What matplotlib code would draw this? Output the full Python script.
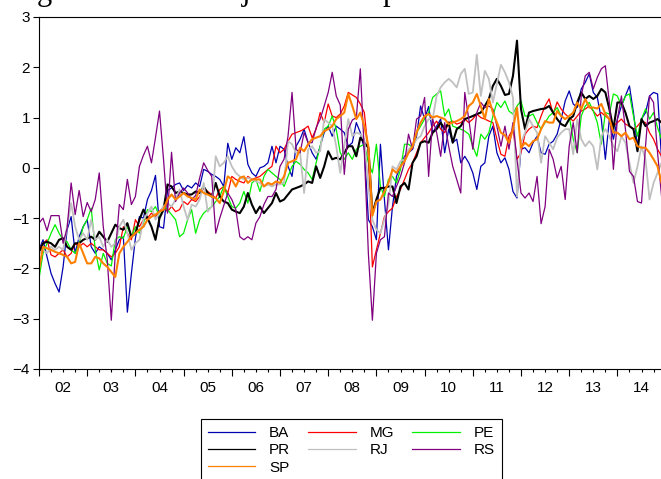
import numpy as np
import matplotlib
matplotlib.use("Agg")
import matplotlib.pyplot as plt
from matplotlib.ticker import MultipleLocator, FixedLocator, NullFormatter

plt.rcParams['font.family'] = ['Liberation Sans', 'DejaVu Sans']

# monthly observations, 2002M01 .. 2014M12
year_labels = ['02', '03', '04', '05', '06', '07', '08', '09', '10', '11', '12', '13', '14']

BA = [-1.63, -1.43, -1.77, -2.10, -2.30, -2.47, -1.97, -1.23, -0.97, -1.70, -1.37, -1.17,
      -1.03, -1.57, -1.70, -1.57, -1.63, -1.70, -1.83, -1.63, -1.43, -1.37, -2.87, -2.10,
      -1.40, -0.97, -1.00, -0.63, -0.45, -0.15, -1.17, -1.20, -0.45, -0.40, -0.33, -0.30,
      -0.45, -0.35, -0.40, -0.30, -0.37, -0.03, -0.07, -0.13, -0.17, -0.23, -0.37, 0.49,
      0.17, 0.40, 0.30, 0.62, 0.07, -0.10, -0.17, 0.00, 0.03, 0.10, 0.43, 0.10,
      0.43, 0.37, 0.03, -0.17, 0.43, 0.57, 0.77, 0.50, 0.30, 0.17, 0.43, 0.70,
      0.83, 0.63, 0.83, 0.77, 0.70, 0.43, 0.50, 0.90, 0.70, 0.37, -1.03, -1.17,
      -1.43, 0.47, -0.63, -1.63, -0.77, -0.17, 0.03, 0.23, 0.30, 0.37, 0.63, 1.23,
      0.97, 1.22, 0.70, 0.83, 0.97, 0.30, 0.77, 0.50, 0.57, 0.10, 0.23, 0.10,
      -0.10, -0.43, 0.03, 0.10, 0.63, 0.83, 0.30, 0.10, 0.20, -0.03, -0.47, -0.60,
      0.37, 0.40, 0.30, 0.50, 0.63, 0.30, 0.27, 0.47, 0.53, 0.67, 0.97, 1.33,
      1.53, 1.27, 1.20, 1.57, 1.70, 1.87, 1.50, 1.40, 0.97, 0.17, 0.97, 0.57,
      0.97, 1.23, 1.43, 1.63, 1.10, 0.43, 0.97, 1.10, 1.43, 1.50, 1.47, 0.17]

MG = [-1.63, -1.50, -1.43, -1.73, -1.77, -1.70, -1.63, -1.77, -1.70, -1.50, -1.57, -1.50,
      -1.57, -1.50, -1.57, -1.63, -1.63, -1.70, -1.77, -1.70, -1.57, -1.17, -1.30, -1.43,
      -1.03, -1.17, -1.03, -1.00, -0.90, -0.97, -0.87, -0.77, -0.87, -0.77, -0.87, -0.83,
      -0.67, -0.73, -0.63, -0.67, -0.57, -0.40, -0.47, -0.53, -0.60, -0.43, -0.37, -0.50,
      -0.17, -0.23, -0.27, -0.30, -0.17, -0.23, -0.20, -0.17, -0.10, -0.03, 0.03, 0.43,
      0.30, 0.37, 0.53, 0.67, 0.70, 0.73, 0.77, 0.83, 0.60, 0.77, 1.10, 0.90,
      1.27, 1.03, 1.00, 1.07, 1.23, 1.50, 1.45, 1.40, 1.27, 1.10, 0.30, -1.97,
      -1.63, -1.30, -0.97, -0.87, -0.80, -0.57, -0.43, -0.23, -0.03, 0.10, 0.30, 0.50,
      0.60, 0.70, 0.83, 0.93, 0.77, 0.70, 0.90, 0.93, 0.87, 0.90, 0.97, 0.90,
      0.97, 1.07, 1.00, 0.97, 0.93, 0.90, 0.57, 0.27, 0.23, 0.63, 0.77, 0.17,
      0.30, 0.67, 0.77, 0.83, 0.80, 1.03, 1.23, 1.37, 1.07, 1.31, 1.17, 1.07,
      1.00, 0.93, 1.03, 1.13, 1.17, 1.23, 1.13, 1.03, 1.10, 1.03, 0.97, 0.83,
      0.90, 0.97, 0.87, 0.83, 0.77, 0.83, 0.93, 0.90, 0.70, 0.57, 0.37, 0.23]

PE = [-2.20, -1.70, -1.50, -1.30, -1.13, -1.30, -1.43, -1.47, -1.63, -1.70, -1.50, -1.17,
      -1.03, -0.80, -1.63, -2.03, -1.70, -1.90, -1.95, -1.43, -1.37, -1.40, -1.17, -1.37,
      -1.17, -1.30, -1.10, -0.83, -0.87, -0.77, -0.97, -0.77, -0.83, -0.93, -1.03, -1.37,
      -1.30, -1.03, -0.83, -1.30, -1.03, -0.90, -0.83, -0.77, -0.67, -0.57, -0.37, -0.57,
      -0.77, -0.80, -0.70, -0.47, -0.70, -0.30, -0.23, -0.47, -0.17, -0.03, -0.10, -0.17,
      -0.23, -0.37, -0.17, 0.03, 0.13, 0.07, -0.03, -0.10, -0.23, 0.10, 0.43, 0.77,
      0.83, 1.03, 0.77, 0.30, 0.17, 0.30, 0.17, 0.37, 0.43, 0.47, 0.10, -0.10,
      0.47, -0.37, -0.57, -0.23, -0.17, -0.30, -0.03, 0.47, 0.47, 0.40, 0.70, 0.83,
      0.97, 1.10, 1.40, 1.47, 1.53, 1.03, 1.17, 0.83, 0.80, 0.77, 0.73, 0.67,
      0.43, 0.23, 0.67, 0.57, 0.70, 1.03, 1.30, 1.20, 1.33, 1.13, 1.07, 1.23,
      1.33, 1.03, 1.03, 1.07, 0.90, 0.77, 0.90, 1.03, 1.10, 1.20, 1.03, 0.97,
      1.03, 0.57, 0.30, 1.03, 1.23, 1.30, 1.13, 0.90, 0.47, 1.10, 1.07, 1.47,
      1.43, 1.23, 1.43, 1.47, 1.03, 0.63, 0.97, 1.17, 0.97, 1.10, 0.80, 0.57]

PR = [-1.70, -1.50, -1.47, -1.50, -1.57, -1.43, -1.40, -1.57, -1.63, -1.50, -1.50, -1.43,
      -1.40, -1.37, -1.43, -1.27, -1.37, -1.47, -1.30, -1.13, -1.20, -1.23, -1.10, -1.37,
      -1.30, -1.03, -0.83, -1.00, -1.17, -1.43, -1.00, -0.83, -0.33, -0.37, -0.50, -0.47,
      -0.50, -0.53, -0.53, -0.47, -0.50, -0.37, -0.50, -0.57, -0.30, -0.57, -0.67, -0.70,
      -0.83, -0.87, -0.90, -0.77, -0.50, -0.73, -0.90, -0.77, -0.90, -0.80, -0.70, -0.50,
      -0.67, -0.63, -0.53, -0.43, -0.40, -0.37, -0.33, -0.27, -0.30, 0.03, -0.20, 0.03,
      0.33, 0.17, 0.20, 0.17, 0.30, 0.43, 0.43, 0.23, 0.60, 0.50, 0.40, -0.90,
      -0.63, -0.40, -0.40, -0.37, -0.37, -0.70, -0.37, -0.30, -0.43, 0.10, 0.23, 0.50,
      0.53, 0.50, 0.70, 0.77, 0.90, 0.77, 0.90, 0.50, 0.77, 0.83, 0.97, 1.00,
      1.03, 1.07, 1.10, 1.23, 1.37, 1.63, 1.77, 1.63, 1.45, 1.47, 1.83, 2.53,
      1.17, 0.77, 1.10, 1.13, 1.15, 1.17, 1.18, 1.23, 1.10, 0.97, 0.87, 0.83,
      0.97, 1.03, 1.30, 1.50, 1.37, 1.43, 1.37, 1.43, 1.57, 1.50, 1.17, 0.77,
      1.30, 1.30, 1.10, 0.83, 0.77, 0.33, 0.97, 0.83, 0.90, 0.93, 0.97, 0.90]

RJ = [-1.70, -1.63, -1.70, -1.57, -1.63, -1.57, -1.63, -1.17, -0.70, -1.17, -1.43, -1.30,
      -1.43, -1.03, -1.43, -1.37, -1.57, -1.43, -1.57, -1.50, -1.17, -1.03, -1.30, -1.63,
      -1.50, -1.43, -1.03, -0.90, -0.77, -1.03, -0.90, -0.77, -0.70, -0.77, -0.63, -0.43,
      -0.77, -1.03, -0.73, -0.77, -0.63, -0.30, -0.87, -0.77, 0.23, 0.03, 0.10, 0.23,
      0.03, -0.10, -0.17, -0.23, -0.20, -0.23, -0.27, -0.30, -0.37, -0.33, -0.37, -0.33,
      -0.33, -0.30, 0.53, 0.47, 0.30, 0.30, -0.50, 0.37, 0.43, 0.30, 0.33, 0.97,
      0.90, 0.83, 0.43, -0.10, 0.43, 0.97, 0.63, 0.70, 0.67, 0.57, -0.37, -1.03,
      -1.23, -1.30, -1.03, -0.73, 0.03, -0.03, 0.13, 0.17, 0.37, 0.43, 0.57, 0.63,
      0.83, 0.97, 0.97, 1.43, 1.60, 1.70, 1.77, 1.70, 1.60, 1.87, 1.97, 1.47,
      1.50, 2.25, 1.43, 1.93, 1.77, 1.30, 1.67, 2.05, 1.90, 1.70, 1.40, -0.57,
      0.50, 0.70, 0.97, 0.83, 0.70, 0.10, 0.63, 0.50, 0.37, 0.60, 0.70, 0.77,
      0.77, 0.27, 0.97, 0.57, 0.43, 0.53, 0.43, -0.03, 0.63, 0.77, 0.63, 0.43,
      0.33, 0.63, 0.50, 0.10, -0.30, 0.03, 0.43, 0.17, -0.63, -0.30, -0.10, 0.10]

RS = [-1.10, -1.00, -1.25, -0.95, -0.95, -0.95, -1.50, -1.20, -0.30, -0.93, -0.45, -0.97,
      -0.69, -0.87, -0.63, -0.10, -1.17, -1.83, -3.03, -1.70, -0.73, -0.83, -0.23, -0.73,
      -0.57, 0.03, 0.25, 0.43, 0.10, 0.60, 1.13, 0.17, -0.90, 0.31, -0.67, -0.50,
      -0.40, -0.50, -0.63, -0.55, -0.20, 0.10, -0.05, -0.17, -1.30, -1.00, -0.75, -0.50,
      -0.63, -0.83, -1.37, -1.43, -1.37, -1.43, -1.10, -0.97, -0.73, -0.57, -0.57, -0.43,
      0.03, 0.17, 0.63, 1.50, 0.37, 0.30, 0.70, 0.50, 0.50, 0.80, 0.97, 1.23,
      1.50, 1.90, 1.43, 1.25, -0.13, 0.77, 0.95, 1.00, 1.97, 0.30, -1.70, -3.03,
      -1.70, -1.43, -1.37, -0.50, -0.57, -0.37, -0.17, 0.10, 0.67, 0.37, 0.97, 1.03,
      1.40, -0.17, 0.97, 0.70, 0.23, 0.90, 0.43, 0.03, -0.23, -0.50, 1.50, 0.97,
      0.37, 1.10, 1.30, 1.20, 1.23, 1.17, 0.83, 0.43, 0.83, 0.37, 0.90, 0.17,
      -0.50, -0.60, -0.50, -0.67, -0.17, -1.11, -0.77, 0.37, 0.17, -0.20, 0.03, -0.63,
      0.43, 0.90, 0.30, 1.43, 1.83, 1.90, 1.57, 1.80, 1.97, 2.03, 1.30, -0.03,
      0.97, 1.43, 0.77, -0.07, -0.17, -0.67, -0.70, 0.43, 1.43, 1.30, 0.30, -0.57]

SP = [-2.03, -1.57, -1.60, -1.63, -1.67, -1.70, -1.73, -1.77, -1.90, -1.87, -1.50, -1.70,
      -1.90, -1.90, -1.77, -1.80, -1.90, -1.97, -2.07, -2.17, -1.70, -1.57, -1.47, -1.37,
      -1.30, -1.23, -1.17, -1.03, -0.97, -0.93, -0.87, -0.83, -0.63, -0.53, -0.63, -0.57,
      -0.50, -0.57, -0.60, -0.63, -0.43, -0.50, -0.53, -0.57, -0.60, -0.70, -0.47, -0.17,
      -0.23, -0.37, -0.20, -0.17, -0.30, -0.23, -0.23, -0.23, -0.37, -0.30, -0.33, -0.27,
      -0.30, -0.17, 0.10, 0.13, 0.17, 0.40, 0.33, 0.47, 0.57, 0.60, 0.63, 0.73,
      0.77, 0.83, 0.97, 1.03, 1.10, 1.47, 1.23, 0.97, 1.10, 0.83, 0.43, -0.95,
      -0.67, -0.63, -0.47, -0.30, -0.03, -0.10, 0.03, 0.13, 0.30, 0.43, 0.70, 0.90,
      1.03, 1.07, 1.00, 1.03, 1.00, 0.97, 0.87, 0.90, 0.93, 0.97, 1.03, 1.23,
      1.30, 1.47, 1.23, 0.97, 1.37, 1.10, 0.90, 0.70, 0.65, 0.50, 0.77, 1.20,
      0.40, 0.50, 0.43, 0.53, 0.57, 0.77, 0.93, 0.90, 0.90, 1.13, 1.03, 0.97,
      1.03, 1.10, 1.30, 1.17, 1.37, 1.20, 1.20, 1.18, 1.27, 1.07, 0.97, 0.70,
      0.70, 0.63, 0.70, 0.57, 0.60, 0.43, 0.40, 0.40, 0.30, 0.17, 0.03, -0.30]

series = [('BA', BA, '#0000B0', 0.9), ('MG', MG, '#FF0000', 0.9), ('PE', PE, '#00F000', 0.9),
          ('PR', PR, '#000000', 1.5), ('RJ', RJ, '#C0C0C0', 1.3), ('RS', RS, '#800080', 0.9),
          ('SP', SP, '#FF8000', 1.5)]

W, H = 661, 479
fig = plt.figure(figsize=(W / 100, H / 100), dpi=100)
x_left, x_right, y_top, y_bot = 39, 665.6, 17, 369
ax = fig.add_axes([x_left / W, 1 - y_bot / H, (x_right - x_left) / W, (y_bot - y_top) / H])

months = np.arange(len(BA))
handles = {}
for name, vals, col, lw in series:
    handles[name], = ax.plot(months, vals, color=col, lw=lw, label=name)

ax.set_xlim(0, 12 * len(year_labels))
ax.set_ylim(-4, 3)
ax.yaxis.set_major_locator(MultipleLocator(1))
ax.tick_params(axis='y', direction='out', length=4.5, width=0.8, pad=2, labelsize=11)

# year boundaries as major ticks, quarters as minor ticks
ax.xaxis.set_major_locator(MultipleLocator(12))
ax.xaxis.set_minor_locator(MultipleLocator(3))
ax.xaxis.set_major_formatter(NullFormatter())
ax.tick_params(axis='x', which='major', direction='out', length=5, width=0.8)
ax.tick_params(axis='x', which='minor', direction='out', length=2.5, width=0.8)

# year labels centred within each year
sec = ax.secondary_xaxis('bottom')
sec.xaxis.set_major_locator(FixedLocator([12 * i + 6 for i in range(len(year_labels))]))
sec.set_xticklabels(year_labels)
sec.tick_params(axis='x', length=0, pad=9, labelsize=11)
sec.spines['bottom'].set_visible(False)

for s in ax.spines.values():
    s.set_linewidth(0.8)

# legend filled row by row: BA MG PE / PR RJ RS / SP
order = ['BA', 'PR', 'SP', 'MG', 'RJ', 'PE', 'RS']
leg = ax.legend([handles[k] for k in order], order,
                loc='upper left', bbox_to_anchor=(201 / W, 1 - 419 / H),
                bbox_transform=fig.transFigure, ncol=3, fontsize=11,
                frameon=True, fancybox=False, framealpha=1, edgecolor='black',
                handlelength=3.1, handletextpad=0.9, columnspacing=1.2,
                labelspacing=0.22, borderpad=0.45, borderaxespad=0)
leg.get_frame().set_linewidth(0.8)
for h in leg.get_lines():
    h.set_linewidth(0.9)

# descenders of the cut-off title
for ch, xp in [('g', 44), ('j', 246), ('p', 390)]:
    fig.text(xp / W, 1.0, ch, family=['Liberation Serif', 'DejaVu Serif'], fontsize=22,
             ha='center', va='baseline')

fig.savefig('out.png', dpi=100)
